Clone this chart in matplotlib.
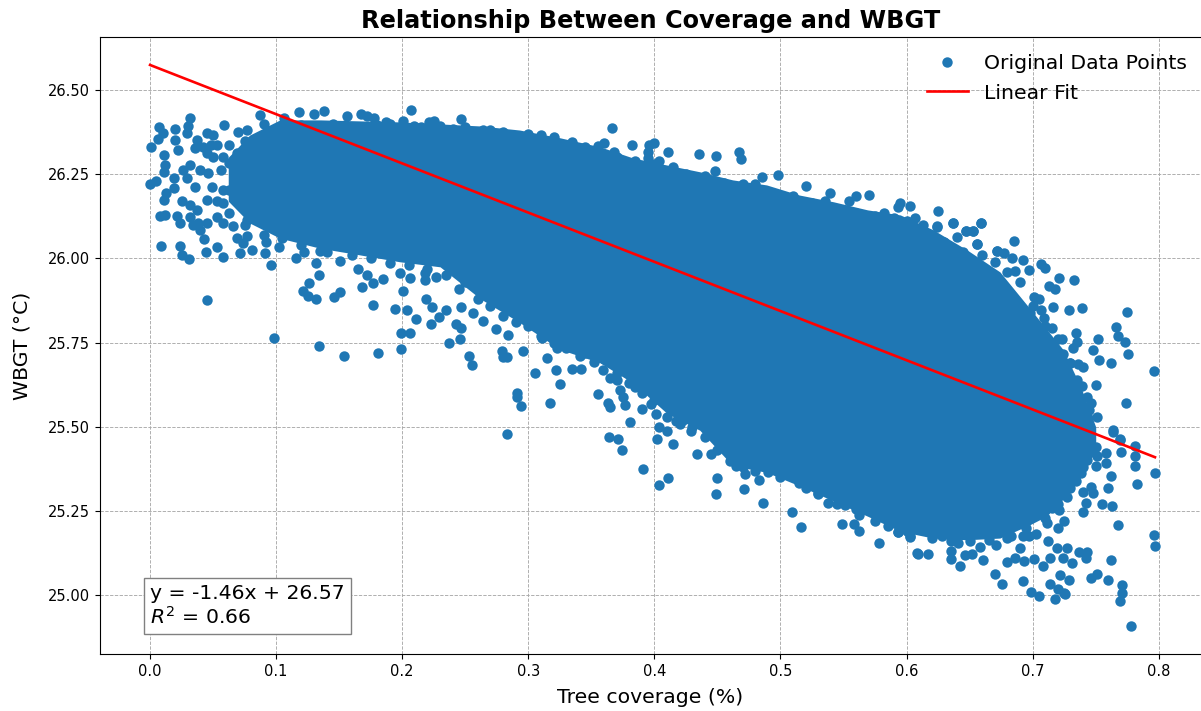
import matplotlib
matplotlib.use("Agg")
import matplotlib.pyplot as plt

BLUE = "#1f77b4"

# dense cloud outline
core_x = [.062,.079,.103,.135,.167,.198,.230,.262,.293,.325,.357,.383,.410,.436,.462,.489,.515,.542,.569,.595,.621,.648,.674,.698,.711,.724,.738,.750]
core_upper = [26.300,26.366,26.411,26.411,26.408,26.405,26.399,26.393,26.381,26.358,26.331,26.298,26.277,26.257,26.233,26.218,26.188,26.168,26.144,26.129,26.085,26.025,25.960,25.850,25.790,25.730,25.620,25.500]
core_lower = [26.170,26.105,26.060,26.030,26.010,25.990,25.975,25.880,25.810,25.730,25.690,25.630,25.540,25.490,25.385,25.365,25.325,25.280,25.235,25.190,25.170,25.165,25.170,25.210,25.235,25.285,25.350,25.430]

# individually visible points (coverage, WBGT)
left_points = [(.001,26.332),(.000,26.220),(.007,26.389),(.006,26.354),(.010,26.373),(.020,26.384),(.032,26.418),(.030,26.394),(.029,26.371),(.020,26.350),(.011,26.307),(.022,26.322),(.012,26.277),(.011,26.255),(.005,26.231),(.019,26.238),(.019,26.208),(.013,26.195),(.011,26.172),(.025,26.169),(.032,26.159),(.037,26.144),(.045,26.174),(.053,26.169),(.008,26.126),(.012,26.129),(.021,26.126),(.024,26.104),(.034,26.099),(.040,26.085),(.043,26.058),(.009,26.038),(.024,26.037),(.025,26.010),(.031,25.999),(.044,26.018),(.053,26.035),(.058,26.005),(.045,25.877),(.037,26.352),(.045,26.371),(.059,26.396),(.050,26.366),(.070,26.376),(.077,26.381),(.036,26.327),(.042,26.332),(.048,26.337),(.053,26.337),(.045,26.312),(.050,26.302),(.063,26.337),(.075,26.347),(.069,26.312),(.058,26.302),(.040,26.263),(.046,26.253),(.056,26.263),(.063,26.282),(.032,26.277),(.029,26.238),(.036,26.213),(.049,26.213),(.058,26.203),(.069,26.233),(.063,26.203),(.071,26.174),(.058,26.164),(.063,26.134),(.053,26.124),(.045,26.104),(.058,26.104),(.066,26.095),(.077,26.114),(.038,26.104),(.032,26.124),(.026,26.263)]
top_points = [(.087,26.426),(.118,26.435),(.130,26.428),(.138,26.436),(.156,26.423),(.167,26.429),(.172,26.423),(.178,26.416),(.187,26.404),(.201,26.409),(.207,26.441),(.209,26.394),(.221,26.406),(.225,26.409),(.230,26.393),(.239,26.381),(.247,26.413),(.254,26.376),(.264,26.381),(.106,26.416),(.366,26.386),(.360,26.341),(.382,26.336),(.400,26.341),(.396,26.336),(.395,26.317),(.395,26.297),(.368,26.317),(.411,26.315),(.404,26.290),(.435,26.310),(.449,26.304),(.467,26.315),(.469,26.294),(.448,26.259),(.485,26.243),(.498,26.248),(.520,26.216),(.539,26.195),(.560,26.185),(.570,26.189),(.554,26.171),(.595,26.165),(.593,26.152),(.603,26.156),(.625,26.140),(.637,26.104),(.659,26.104),(.647,26.082),(.653,26.081),(.672,26.023),(.624,26.094),(.607,26.119),(.582,26.136),(.640,26.063),(.656,26.042),(.613,26.099)]
low_mid_points = [(.071,26.015),(.069,26.060),(.077,26.065),(.074,26.047),(.081,26.025),(.091,26.015),(.092,26.050),(.102,26.035),(.096,25.979),(.116,26.002),(.122,26.018),(.135,26.022),(.132,25.986),(.134,25.951),(.126,25.926),(.121,25.904),(.125,25.887),(.132,25.880),(.146,25.885),(.151,25.901),(.151,25.991),(.165,25.969),(.172,25.951),(.168,25.916),(.177,25.926),(.185,25.938),(.198,25.956),(.206,25.941),(.218,25.958),(.218,25.936),(.227,25.946),(.201,25.902),(.177,25.863),(.194,25.849),(.204,25.847),(.211,25.820),(.219,25.880),(.224,25.855),(.229,25.827),(.223,25.805),(.235,25.847),(.247,25.857),(.264,25.813),(.243,25.805),(.247,25.793),(.256,25.837),(.199,25.780),(.206,25.778),(.098,25.763),(.134,25.740),(.154,25.711),(.181,25.719),(.199,25.732),(.237,25.748),(.246,25.761),(.253,25.711),(.255,25.685),(.274,25.791),(.284,25.773),(.279,25.724),(.283,25.707),(.280,25.707),(.296,25.724),(.291,25.600),(.291,25.590),(.294,25.563),(.283,25.478),(.305,25.661),(.315,25.704),(.322,25.669),(.325,25.627),(.317,25.572),(.335,25.672),(.342,25.672),(.352,25.692),(.355,25.598),(.363,25.570),(.365,25.558),(.359,25.669),(.365,25.645),(.370,25.640),(.373,25.608),(.375,25.588),(.377,25.565),(.385,25.618),(.390,25.554),(.397,25.567),(.401,25.538),(.381,25.514),(.364,25.471),(.371,25.464),(.374,25.432),(.402,25.464),(.415,25.450),(.434,25.419),(.391,25.375),(.411,25.347),(.404,25.328),(.404,25.501),(.410,25.489),(.429,25.489),(.417,25.518),(.423,25.521),(.431,25.546),(.323,25.734),(.341,25.709),(.311,25.763),(.445,25.420),(.450,25.348),(.449,25.300),(.471,25.315),(.483,25.341),(.486,25.273),(.509,25.246),(.516,25.202),(.530,25.305),(.538,25.273),(.551,25.268),(.549,25.211),(.558,25.211),(.562,25.192),(.578,25.155),(.608,25.125),(.515,25.333),(.472,25.360),(.465,25.384),(.562,25.239),(.593,25.189),(.603,25.172)]
right_points = [(.624,26.096),(.637,26.104),(.647,26.082),(.653,26.081),(.659,26.104),(.656,26.043),(.685,26.053),(.672,26.022),(.677,26.015),(.684,26.002),(.692,25.995),(.697,25.966),(.686,25.963),(.707,25.983),(.710,25.971),(.721,25.943),(.733,25.936),(.713,25.919),(.718,25.908),(.701,25.885),(.705,25.879),(.716,25.857),(.729,25.847),(.739,25.852),(.775,25.842),(.766,25.795),(.768,25.771),(.773,25.751),(.752,25.761),(.748,25.728),(.753,25.699),(.762,25.691),(.776,25.715),(.796,25.665),(.734,25.780),(.735,25.753),(.732,25.733),(.724,25.716),(.730,25.689),(.736,25.687),(.740,25.677),(.723,25.761),(.715,25.793),(.709,25.822),(.707,25.847),(.698,25.837),(.687,25.845),(.720,25.689),(.719,25.667),(.706,25.684),(.708,25.651),(.721,25.629),(.739,25.622),(.750,25.625),(.727,25.610),(.717,25.610),(.743,25.590),(.746,25.572),(.732,25.575),(.774,25.572),(.751,25.530),(.744,25.527),(.736,25.530),(.764,25.491),(.769,25.463),(.709,25.723),(.703,25.733),(.714,25.753),(.764,25.486),(.769,25.461),(.781,25.442),(.781,25.414),(.770,25.424),(.781,25.384),(.797,25.362),(.783,25.330),(.762,25.353),(.760,25.320),(.758,25.422),(.758,25.392),(.750,25.384),(.751,25.414),(.740,25.308),(.746,25.323),(.748,25.303),(.742,25.275),(.755,25.271),(.763,25.265),(.740,25.247),(.768,25.209),(.796,25.178),(.797,25.147),(.762,25.105),(.760,25.045),(.751,25.063),(.746,25.053),(.771,25.031),(.771,25.006),(.769,24.984),(.778,24.908),(.743,25.130),(.742,25.110),(.737,25.130),(.731,25.095),(.727,25.140),(.724,25.110),(.719,25.140),(.714,25.110),(.712,25.160),(.708,25.087),(.701,25.107),(.693,25.102),(.686,25.110),(.680,25.098),(.690,25.140),(.670,25.063),(.676,25.033),(.692,25.043),(.699,25.009),(.705,24.998),(.714,25.033),(.722,25.061),(.729,25.045),(.720,25.018),(.725,25.006),(.718,24.990),(.726,25.003),(.661,25.105),(.642,25.087),(.635,25.108),(.635,25.133),(.646,25.120),(.652,25.123),(.658,25.145),(.671,25.150),(.609,25.123),(.617,25.123),(.641,25.155),(.628,25.175),(.603,25.175),(.593,25.189),(.720,25.201),(.725,25.222),(.711,25.214),(.703,25.182),(.683,25.175),(.692,25.175),(.697,25.175),(.721,25.254),(.715,25.258),(.706,25.275),(.727,25.293),(.734,25.338),(.740,25.461),(.743,25.402),(.738,25.362)]
upper_edge = [(.09,26.40),(.11,26.40),(.12,26.395),(.145,26.40),(.155,26.395),(.18,26.395),(.19,26.40),(.215,26.39),(.24,26.385),(.25,26.39),(.27,26.38),(.28,26.375),(.30,26.37),(.31,26.365),(.32,26.36),(.335,26.345),(.345,26.33),(.355,26.335),(.37,26.30),(.385,26.29),(.40,26.28),(.415,26.27),(.425,26.25),(.44,26.245),(.455,26.225),(.47,26.22),(.48,26.22),(.50,26.18),(.51,26.185),(.525,26.165),(.535,26.17),(.55,26.145),(.56,26.135),(.575,26.125),(.59,26.12),(.60,26.11),(.615,26.07),(.63,26.05),(.645,26.02),(.66,26.01),(.67,25.99),(.68,25.96),(.69,25.93),(.70,25.86),(.71,25.80),(.72,25.76),(.73,25.69),(.735,25.64),(.745,25.55)]
lower_edge = [(.075,26.10),(.09,26.07),(.105,26.06),(.12,26.04),(.14,26.02),(.16,26.01),(.175,26.0),(.19,25.985),(.205,25.98),(.22,25.97),(.235,25.95),(.245,25.91),(.25,25.93),(.26,25.88),(.27,25.86),(.28,25.83),(.29,25.81),(.30,25.80),(.31,25.77),(.32,25.75),(.33,25.735),(.345,25.72),(.36,25.70),(.37,25.66),(.38,25.63),(.39,25.60),(.40,25.58),(.41,25.53),(.42,25.51),(.43,25.50),(.44,25.47),(.45,25.43),(.46,25.40),(.47,25.38),(.48,25.37),(.49,25.365),(.50,25.35),(.52,25.32),(.53,25.30),(.545,25.27),(.56,25.255),(.575,25.22),(.585,25.205),(.60,25.19),(.62,25.17),(.635,25.16),(.65,25.16),(.665,25.165),(.68,25.17),(.695,25.20),(.71,25.23),(.72,25.27),(.73,25.32),(.74,25.38),(.75,25.44),(.745,25.48)]

fit_x = [0.0, 0.797]
fit_y = [26.574, 25.410]

x_ticks = [0.0, 0.1, 0.2, 0.3, 0.4, 0.5, 0.6, 0.7, 0.8]
y_ticks = [25.00, 25.25, 25.50, 25.75, 26.00, 26.25, 26.50]

all_points = left_points + top_points + low_mid_points + right_points + upper_edge + lower_edge
px = [p[0] for p in all_points]
py = [p[1] for p in all_points]

fig = plt.figure(figsize=(12.01, 7.11), dpi=100)
ax = fig.add_axes([100/1201, (711-654)/711, 1101/1201, (654-37)/711])

ax.fill_between(core_x, core_lower, core_upper, color=BLUE, lw=0, zorder=2)
ax.plot(px, py, "o", color=BLUE, ms=7.5, mew=0, zorder=2, label="Original Data Points")
ax.plot(fit_x, fit_y, color="red", lw=1.9, zorder=3, label="Linear Fit")

ax.set_xlim(-0.0397, 0.8335)
ax.set_ylim(24.826, 26.657)
ax.set_xticks(x_ticks)
ax.set_yticks(y_ticks)
ax.set_yticklabels([f"{v:.2f}" for v in y_ticks])
ax.tick_params(labelsize=10.5)
ax.grid(True, ls="--", lw=0.65, color="#aaaaaa", zorder=0)
ax.set_axisbelow(True)
ax.spines["right"].set_visible(False)

ax.set_xlabel("Tree coverage (%)", fontsize=14.7, labelpad=7)
ax.set_ylabel("WBGT (°C)", fontsize=14.7, labelpad=12)
ax.set_title("Relationship Between Coverage and WBGT", fontsize=17.3, fontweight="bold", pad=6.5)

ax.legend(loc="upper right", bbox_to_anchor=(1.003, 1.0), frameon=False, fontsize=14.7,
          labelspacing=0.5, handlelength=2.0, handletextpad=0.8, borderaxespad=0.45)
ax.text(0.0455, 0.0425, "y = -1.46x + 26.57\n$R^2$ = 0.66", transform=ax.transAxes, fontsize=14.7,
        linespacing=1.15, va="bottom", ha="left",
        bbox=dict(boxstyle="square,pad=0.3", facecolor="white", edgecolor="gray", alpha=1), zorder=5)

fig.savefig("out.png", dpi=100)
